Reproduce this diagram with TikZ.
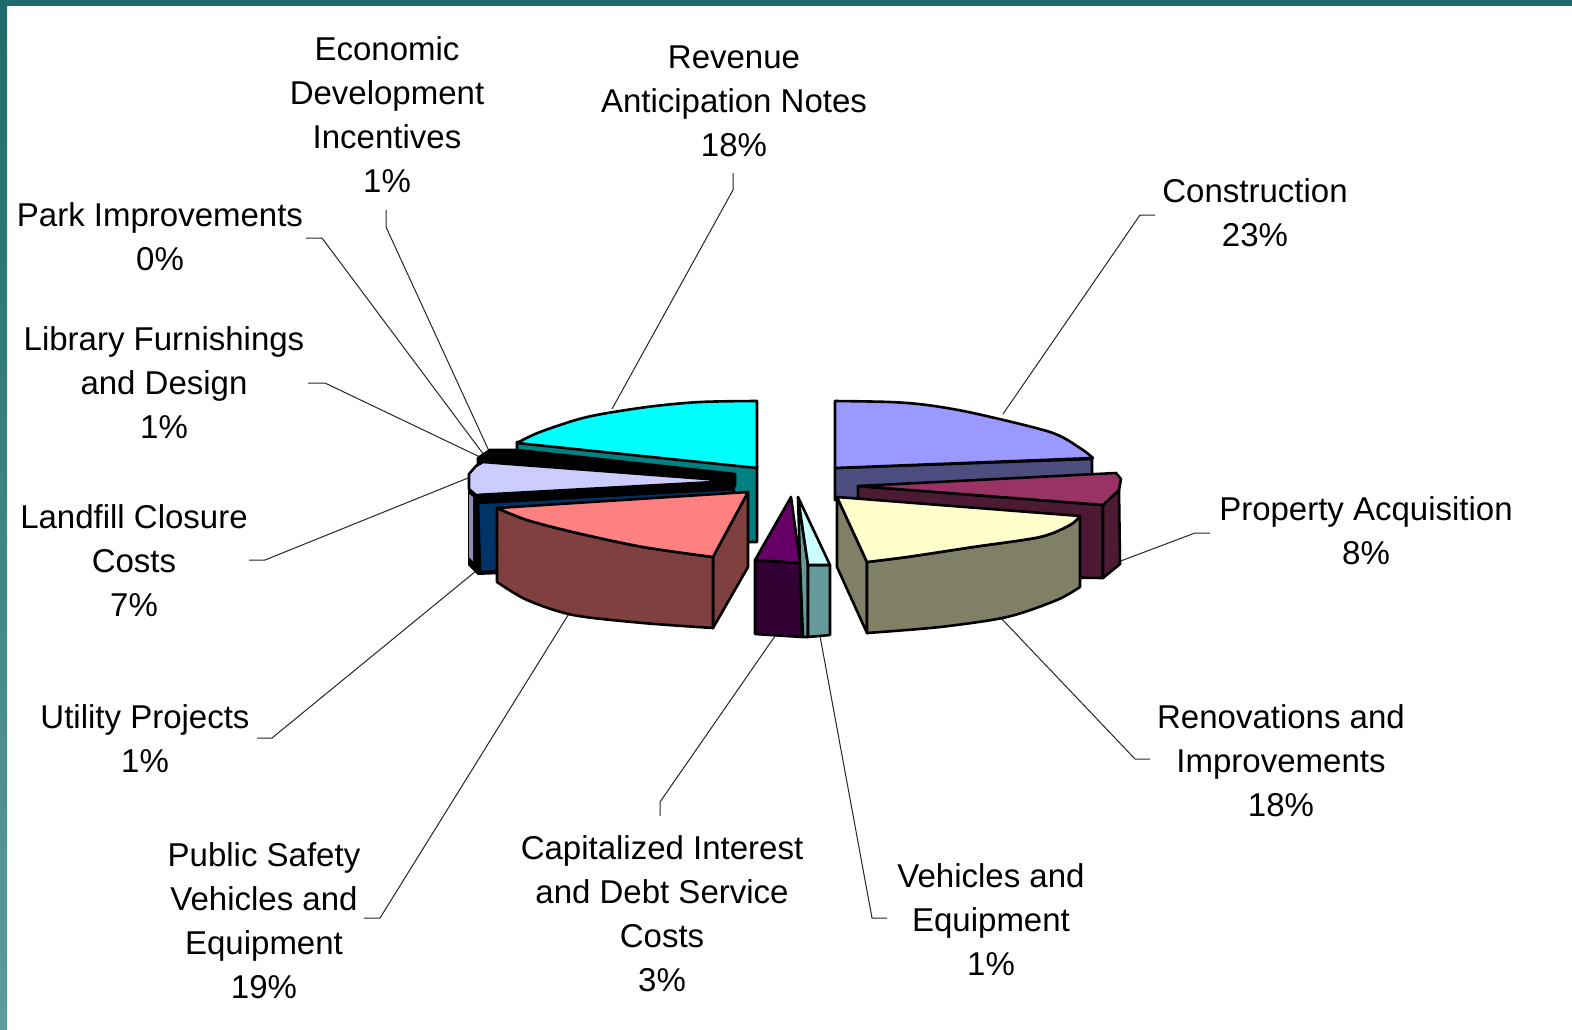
\documentclass[tikz,border=0pt]{standalone}
\usepackage{fontspec}
\setmainfont{Liberation Sans}
\definecolor{frameT}{HTML}{1F6B6B}
\definecolor{frameB}{HTML}{5C9C9A}
\definecolor{cyanT}{HTML}{00FFFF}
\definecolor{cyanS}{HTML}{008080}
\definecolor{lavT}{HTML}{CCCCFF}
\definecolor{lavS}{HTML}{8C8CB4}
\definecolor{navyS}{HTML}{003366}
\definecolor{pinkT}{HTML}{FF8080}
\definecolor{pinkS}{HTML}{804040}
\definecolor{purT}{HTML}{660066}
\definecolor{purS}{HTML}{330033}
\definecolor{lcyT}{HTML}{CCFFFF}
\definecolor{lcyS}{HTML}{669999}
\definecolor{conT}{HTML}{9999FF}
\definecolor{conS}{HTML}{4D4D80}
\definecolor{marT}{HTML}{993366}
\definecolor{marS}{HTML}{4D1A33}
\definecolor{yelT}{HTML}{FFFFCC}
\definecolor{yelS}{HTML}{808066}
\begin{document}
\begin{tikzpicture}[x=1pt,y=-1pt,
  lbl/.style={font=\fontsize{33}{44}\selectfont, align=center, inner sep=0pt},
  lead/.style={draw=black!85, line width=1pt},
  face/.style={draw=black, line width=2.6pt, line join=round}]
\useasboundingbox (0,0) rectangle (1572,1029);
\fill[white] (0,0) rectangle (1572,1029);
\fill[frameT] (0,0) rectangle (1572,6);
\shade[top color=frameT, bottom color=frameB] (0,0) rectangle (7,1029);

% labels
\node[lbl] (econ) at (387,115) {Economic\\Development\\Incentives\\1\%};
\node[lbl] (rev) at (734,101) {Revenue\\Anticipation Notes\\18\%};
\node[lbl] (park) at (160,237) {Park Improvements\\0\%};
\node[lbl] (cons) at (1255,213) {Construction\\23\%};
\node[lbl] (lib) at (164,383) {Library Furnishings\\and Design\\1\%};
\node[lbl] (prop) at (1366,531) {Property Acquisition\\8\%};
\node[lbl] (land) at (134,561) {Landfill Closure\\Costs\\7\%};
\node[lbl] (util) at (145,739) {Utility Projects\\1\%};
\node[lbl] (reno) at (1281,761) {Renovations and\\Improvements\\18\%};
\node[lbl] (capi) at (662,914) {Capitalized Interest\\and Debt Service\\Costs\\3\%};
\node[lbl] (vehi) at (991,920) {Vehicles and\\Equipment\\1\%};
\node[lbl] (pubs) at (264,921) {Public Safety\\Vehicles and\\Equipment\\19\%};

% leader coordinates
\coordinate (parkA) at (306,238); \coordinate (parkB) at (322,238); \coordinate (parkC) at (484,455);
\coordinate (econA) at (386,210); \coordinate (econB) at (386,227); \coordinate (econC) at (489,451);
\coordinate (libA) at (308,383); \coordinate (libB) at (325,383); \coordinate (libC) at (480,457);
\coordinate (revA) at (733,173); \coordinate (revB) at (733,190); \coordinate (revC) at (612,409);
\coordinate (consA) at (1155,215); \coordinate (consB) at (1140,215); \coordinate (consC) at (1003,414);
\coordinate (propA) at (1210,533); \coordinate (propB) at (1195,533); \coordinate (propC) at (1118,562);
\coordinate (renoA) at (1150,759); \coordinate (renoB) at (1135,759); \coordinate (renoC) at (1000,617);
\coordinate (vehiA) at (887,918); \coordinate (vehiB) at (872,918); \coordinate (vehiC) at (820,636);
\coordinate (capiA) at (660,816); \coordinate (capiB) at (660,802); \coordinate (capiC) at (775,636);
\coordinate (pubsA) at (364,918); \coordinate (pubsB) at (380,918); \coordinate (pubsC) at (570,612);
\coordinate (utilA) at (257,738); \coordinate (utilB) at (272,738); \coordinate (utilC) at (476,571);
\coordinate (landA) at (249,560); \coordinate (landB) at (265,560); \coordinate (landC) at (468,478);

\foreach \n in {park,econ,lib,rev,cons,prop,reno,vehi,capi,pubs,util,land}
  \draw[lead] (\n A) -- (\n B) -- (\n C);

% Construction
\path[face, fill=conS] (835,468) -- (1092,459) -- (1092,480) -- (835,500) -- cycle;
\path[face, fill=conT] (835,468) -- (835,401) -- plot[smooth] coordinates {(835,401)(890,402)(927,405)(973,413)(1050,432)(1080,448)(1093,458)} -- cycle;
% Property acquisition
\path[face, fill=marS] (858,486) -- (1103,505) -- (1103,578) -- (858,575) -- cycle;
\path[face, fill=marS] (1103,505) -- (1119,490) -- (1120,564) -- (1103,578) -- cycle;
\path[face, fill=marT] (858,486) -- (1116,473) -- (1121,479) -- (1119,490) -- (1103,505) -- cycle;
% Renovations
\path[face, fill=yelS] (837,497) -- (867,562) -- (867,633) -- (837,567) -- cycle;
\path[face, fill=yelS] plot[smooth] coordinates {(867,562)(907,557)(973,547)(1040,537)(1070,525)(1080,516)} -- (1080,587) -- plot[smooth] coordinates {(1080,587)(1057,600)(1007,617)(940,627)(867,633)} -- cycle;
\path[face, fill=yelT] (837,497) -- (1080,516) -- plot[smooth] coordinates {(1080,516)(1070,525)(1040,537)(973,547)(907,557)(867,562)} -- cycle;

% Revenue anticipation notes
\path[face, fill=cyanS] (517,442) -- (757,466) -- (757,542) -- (700,542) -- (517,500) -- cycle;
\path[face, fill=cyanT] (757,468) -- (757,401) -- plot[smooth] coordinates {(757,401)(700,402)(647,407)(587,417)(540,432)(517,443)} -- cycle;
% Park / economic (thin dark slices)
\path[face, fill=black] (490,450) -- (517,450) -- (735,474) -- (735,486) -- (478,472) -- (478,458) -- cycle;
% Utility / landfill sides
\path[fill=black] (468,490) -- (735,483) -- (735,565) -- (478,575) -- (468,565) -- cycle;
\path[fill=lavS] (469,494) -- (473,497) -- (473,561) -- (469,557) -- cycle;
\path[face, fill=navyS] (478,503) -- (733,489) -- (733,562) -- (480,572) -- cycle;
\path[face, fill=lavT] (483,462) -- (733,481) -- (476,495) -- (469,489) -- (469,474) -- (476,466) -- cycle;
% Public safety
\path[face, fill=pinkS] (713,557) -- (748,492) -- (748,567) -- (713,628) -- cycle;
\path[face, fill=pinkS] plot[smooth] coordinates {(497,508)(527,520)(577,533)(643,547)(713,557)} -- (713,628) -- plot[smooth] coordinates {(713,628)(643,623)(573,615)(527,600)(497,582)} -- cycle;
\path[face, fill=pinkT] (497,508) -- (748,492) -- (713,557) -- plot[smooth] coordinates {(713,557)(643,547)(577,533)(527,520)(497,508)} -- cycle;

% Capitalized interest
\path[face, fill=purS] (755,560) -- (800,563) -- (802,637) -- (755,634) -- cycle;
\path[face, fill=purT] (791,497) -- (800,563) -- (755,560) -- cycle;
% Vehicles and equipment
\path[face, fill=lcyS] (798,497) -- (808,565) -- (808,637) -- (803,637) -- (800,563) -- cycle;
\path[face, fill=lcyS] (808,565) -- (830,565) -- (830,635) -- (808,637) -- cycle;
\path[face, fill=lcyT] (798,497) -- (830,565) -- (808,565) -- cycle;
\end{tikzpicture}
\end{document}
